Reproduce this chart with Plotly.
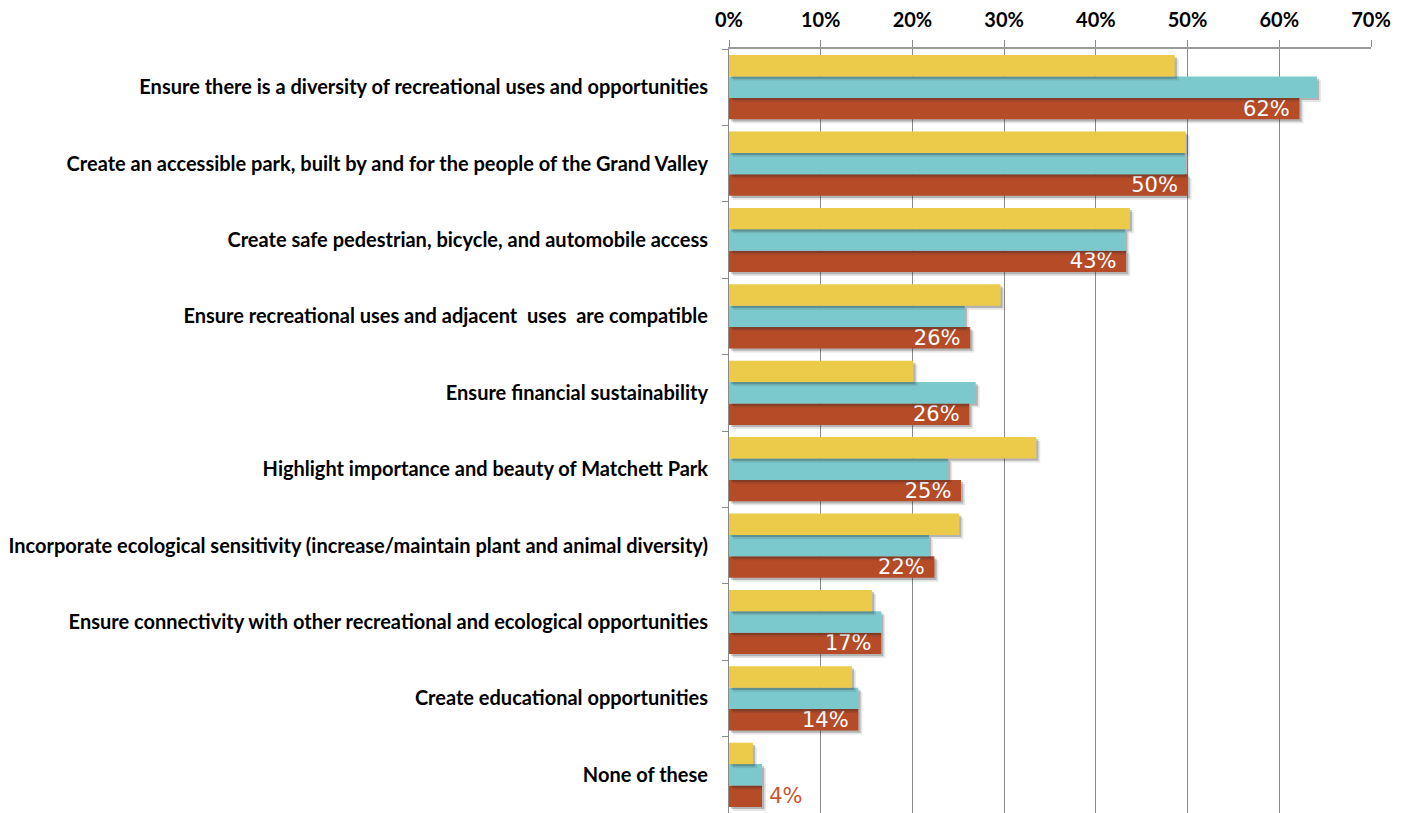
import plotly.graph_objects as go

categories = [
    "Ensure there is a diversity of recreational uses and opportunities",
    "Create an accessible park, built by and for the people of the Grand Valley",
    "Create safe pedestrian, bicycle, and automobile access",
    "Ensure recreational uses and adjacent  uses  are compatible",
    "Ensure financial sustainability",
    "Highlight importance and beauty of Matchett Park",
    "Incorporate ecological sensitivity (increase/maintain plant and animal diversity)",
    "Ensure connectivity with other recreational and ecological opportunities",
    "Create educational opportunities",
    "None of these",
]
series_yellow = [48.6, 49.8, 43.7, 29.6, 20.1, 33.5, 25.1, 15.6, 13.4, 2.6]
series_teal = [64.1, 49.7, 43.2, 25.7, 26.9, 23.9, 21.8, 16.6, 14.1, 3.6]
series_red = [62.2, 50.0, 43.3, 26.3, 26.2, 25.3, 22.4, 16.6, 14.1, 3.6]
red_labels = ["62%", "50%", "43%", "26%", "26%", "25%", "22%", "17%", "14%", "4%"]
x_ticks = [0, 10, 20, 30, 40, 50, 60, 70]
x_tick_labels = ["0%", "10%", "20%", "30%", "40%", "50%", "60%", "70%"]

YELLOW = "#ECCB4A"
TEAL = "#7BC9CC"
RED = "#B54B27"

W, H = 1411, 813
ML, MR, MT, MB = 729, 40, 49, 0
X_MAX = 70
plot_w = W - ML - MR
plot_h = H - MT - MB
px_x = X_MAX / plot_w              # data units per pixel (x)
px_y = len(categories) / plot_h    # category units per pixel (y)

BAR_W = 0.28
offsets = {"yellow": -0.42, "teal": -0.14, "red": 0.14}

fig = go.Figure()


def add_series(values, color, key, **kw):
    # soft drop shadow (two layers) drawn just before the bar itself
    for d, a in ((4.0, 0.12), (2.2, 0.26)):
        fig.add_trace(go.Bar(
            y=categories, x=values, orientation="h",
            base=d * px_x, width=BAR_W, offset=offsets[key] + d * px_y,
            marker=dict(color=f"rgba(40,40,40,{a})", line=dict(width=0)),
            hoverinfo="skip", showlegend=False))
    fig.add_trace(go.Bar(
        y=categories, x=values, orientation="h", width=BAR_W,
        offset=offsets[key], marker=dict(color=color, line=dict(width=0)),
        showlegend=False, **kw))


positions = ["inside"] * (len(series_red) - 1) + ["outside"]
colors = ["white"] * (len(series_red) - 1) + ["#C8562E"]
texts = [t + "\u00a0" if p == "inside" else "\u2009" + t
         for t, p in zip(red_labels, positions)]

add_series(series_red, RED, "red",
           text=texts, textposition=positions, insidetextanchor="end",
           textfont=dict(family="DejaVu Sans", size=21, color=colors),
           constraintext="none", cliponaxis=False)
add_series(series_teal, TEAL, "teal")
add_series(series_yellow, YELLOW, "yellow")

fig.update_layout(
    barmode="overlay",
    width=W, height=H,
    margin=dict(l=ML, r=MR, t=MT, b=MB),
    plot_bgcolor="white",
    paper_bgcolor="white",
    showlegend=False,
    font=dict(family="Lato", color="black"),
)
fig.update_xaxes(
    side="top", range=[0, X_MAX], tickvals=x_ticks, ticktext=x_tick_labels,
    ticks="outside", ticklen=7, tickcolor="#8a8a8a", tickwidth=1,
    showgrid=True, gridcolor="#8a8a8a", gridwidth=1,
    showline=True, linecolor="#9a9a9a", linewidth=1.5,
    tickfont=dict(family="Lato", size=20, color="black", weight="bold"),
    ticklabelstandoff=5, zeroline=False, automargin=False,
)
fig.update_yaxes(
    range=[len(categories) - 0.5, -0.5], ticks="outside", tickson="boundaries",
    ticklen=6, tickcolor="#8a8a8a", showline=True, linecolor="#8a8a8a",
    linewidth=1,
    tickfont=dict(family="Lato", size=20, color="black", weight="bold"),
    ticklabelstandoff=16, automargin=False,
)
fig.write_html("out.html",
               config={"displayModeBar": False},
               post_script="document.body.style.margin='0';"
                           "document.body.style.overflow='hidden';")
